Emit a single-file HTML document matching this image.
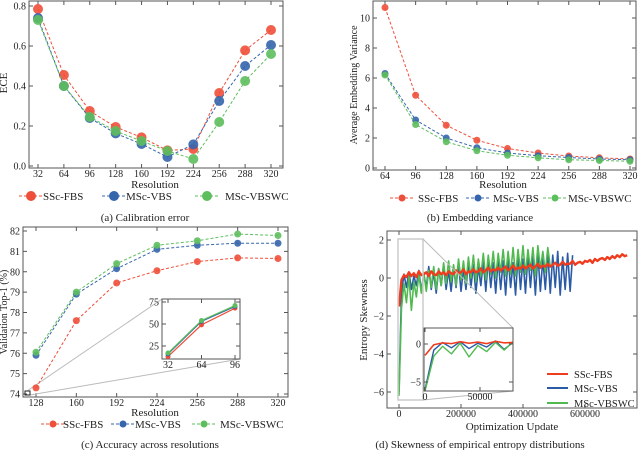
<!DOCTYPE html>
<html><head><meta charset="utf-8"><style>
body{margin:0;background:#fff}
svg{display:block;font-family:"Liberation Serif",serif}
text{fill:#222}
</style></head><body>
<svg id="fig" width="640" height="450" viewBox="0 0 640 450"></svg>
<script>
// ---- data ----
const aCats=[32,64,96,128,160,192,224,256,288,320];
const aRed=[0.785,0.455,0.275,0.195,0.143,0.078,0.085,0.365,0.578,0.68];
const aBlue=[0.74,0.40,0.24,0.163,0.11,0.045,0.108,0.325,0.50,0.605];
const aGreen=[0.73,0.40,0.245,0.175,0.125,0.075,0.035,0.22,0.425,0.56];
const aTicks=[0,0.2,0.4,0.6,0.8];
const bCats=[64,96,128,160,192,224,256,288,320];
const bRed=[10.7,4.85,2.85,1.85,1.3,1.0,0.8,0.68,0.6];
const bBlue=[6.3,3.2,2.0,1.35,1.0,0.82,0.7,0.6,0.55];
const bGreen=[6.2,2.9,1.75,1.15,0.85,0.68,0.55,0.5,0.45];
const bTicks=[0,2,4,6,8,10];
const cCats=[128,160,192,224,256,288,320];
const cRed=[74.3,77.6,79.45,80.05,80.5,80.68,80.65];
const cBlue=[75.9,78.9,80.15,81.1,81.3,81.4,81.4];
const cGreen=[76.05,79.0,80.4,81.3,81.52,81.85,81.78];
const cTicks=[74,75,76,77,78,79,80,81,82];
const ciCats=[32,64,96];
const ciRed=[13,49,68];
const ciBlue=[16,53,70];
const ciGreen=[17,54,71];
const ciTicks=[25,50,75];
const dStep=8000;
const dRed=[-1.5,-0.1,0.15,0.05,0.3,0.1,0.25,0.05,0.35,0.15,
0.2,0.3,0.1,0.35,0.2,0.15,0.35,0.2,0.3,0.15,
0.35,0.25,0.2,0.4,0.25,0.3,0.45,0.2,0.35,0.3,
0.45,0.3,0.35,0.5,0.3,0.4,0.55,0.35,0.45,0.4,
0.55,0.4,0.5,0.6,0.4,0.5,0.65,0.45,0.55,0.5,
0.65,0.5,0.6,0.7,0.5,0.6,0.75,0.55,0.65,0.6,
0.75,0.6,0.7,0.8,0.65,0.7,0.85,0.7,0.75,0.75,
0.9,0.7,0.8,0.85,0.75,0.9,0.85,0.95,0.8,1.0,
0.9,1.0,1.05,0.95,1.1,1.0,1.15,1.05,1.2,1.1,
1.25,1.15,1.2];
const dBlue=[-6.0,-0.8,0.2,-0.5,0.3,-0.6,0.1,-0.4,0.4,-0.7,
0.2,-0.5,0.6,-0.6,0.3,-0.8,0.5,-0.4,0.7,-0.6,
0.4,-0.7,0.6,-0.5,0.8,-0.7,0.5,-0.6,0.9,-0.5,
0.7,-0.8,0.6,-0.4,0.9,-0.7,1.0,-0.5,0.8,-0.8,
1.0,-0.6,0.9,-0.9,1.1,-0.5,0.8,-0.9,1.2,-0.6,
1.0,-0.8,1.2,-0.5,1.1,-0.9,1.3,-0.7,1.0,-0.6,
1.3,-0.8,1.2,-0.5,1.4,-0.9,1.1,-0.6,1.3,-0.7,
1.2];
const dGreen=[-6.2,-1.6,-0.3,-1.3,0.1,-1.7,-0.2,-1.0,0.2,-0.8,
0.3,-0.7,0.4,-0.5,0.6,-0.6,0.5,-0.4,0.8,-0.3,
0.9,-0.2,0.7,-0.4,1.0,-0.1,0.9,-0.3,1.1,0.0,
1.2,-0.2,1.0,0.1,1.3,-0.1,1.2,0.2,1.4,0.0,
1.3,0.3,1.5,0.1,1.4,0.2,1.6,0.1,1.5,0.3,
1.7,0.2,1.5,0.4,1.6,0.1,1.7,0.5,1.4,0.3,
1.6,0.6];
const dYTicks=[-6,-4,-2,0,2];
const dXTicks=[0,200000,400000,600000];
const diYTicks=[-5,0];
const diXTicks=[0,50000];

const RED='#ee4f3a',BLUE='#3565ac',GREEN='#5dbe5d';
const DRED='#f03c1e',DBLUE='#2c5ba6',DGREEN='#50ba50';
const NS='http://www.w3.org/2000/svg';
const svg=document.getElementById('fig');
function el(tag,attrs,parent){const e=document.createElementNS(NS,tag);for(const k in attrs)e.setAttribute(k,attrs[k]);(parent||svg).appendChild(e);return e;}
function txt(x,y,s,size,anchor,parent,rot){const t=el('text',{x:x,y:y,'font-size':size,'text-anchor':anchor||'middle'},parent);if(rot)t.setAttribute('transform',`rotate(-90 ${x} ${y})`);t.textContent=s;return t;}
function lin(d0,d1,r0,r1){return v=>r0+(v-d0)*(r1-r0)/(d1-d0);}

function frame(g,x0,y0,x1,y1,name){
  const r=el('rect',{x:x0,y:y0,width:x1-x0,height:y1-y0,fill:'none',stroke:'#555','stroke-width':1},g);
  
  
}
function yTicks(g,ticks,sy,x0,x1,fmt,size){
  ticks.forEach(v=>{const y=sy(v);
    el('line',{x1:x0,y1:y,x2:x0+4,y2:y,stroke:'#555'},g);
    el('line',{x1:x1,y1:y,x2:x1-4,y2:y,stroke:'#555'},g);
    const t=txt(x0-3,y+3.5,fmt(v),size||10,'end',g);
    
    
  });
}
function xTicks(g,ticks,sx,y0,y1,fmt,size){
  ticks.forEach(v=>{const x=sx(v);
    el('line',{x1:x,y1:y1,x2:x,y2:y1-4,stroke:'#555'},g);
    el('line',{x1:x,y1:y0,x2:x,y2:y0+4,stroke:'#555'},g);
    const t=txt(x,y1+9,fmt(v),size||10,'middle',g);
    
    
  });
}
function series(g,cats,vals,sx,sy,color,r,name){
  const sg=el('g',{},g);
  
  
  const pts=cats.map((c,i)=>sx(c)+','+sy(vals[i])).join(' ');
  el('polyline',{points:pts,fill:'none',stroke:color,'stroke-width':1,'stroke-dasharray':'3,2'},sg);
  cats.forEach((c,i)=>{const m=el('circle',{cx:sx(c),cy:sy(vals[i]),r:r,fill:color,'fill-opacity':0.9},sg);
    
    });
}
function legend(g,y,items,r){
  items.forEach(it=>{
    const lg=el('g',{},g);
    
    
    el('line',{x1:it.x-12,y1:y,x2:it.x+12,y2:y,stroke:it.c,'stroke-dasharray':'3,2'},lg);
    el('circle',{cx:it.x,cy:y,r:r,fill:it.c},lg);
    txt(it.tx,y+4,it.t,11,'start',lg);
  });
}
function group(name){const g=el('g',{});return g;}

// ---- (a) ----
(function(){
 const g=group('panel-a-calibration-error');
 const sx=lin(32,320,38,271),sy=lin(0,0.8,166,6);
 frame(g,29,1,283,168,'plot-frame');
 yTicks(g,aTicks,sy,29,283,v=>v.toFixed(1));
 xTicks(g,aCats,sx,1,168,v=>v);
 let t=txt(7,83,'ECE',11,'middle',g,true);
 t=txt(155,188,'Resolution',11);
 series(g,aCats,aRed,sx,sy,RED,5,'series-ssc-fbs');
 series(g,aCats,aBlue,sx,sy,BLUE,5,'series-msc-vbs');
 series(g,aCats,aGreen,sx,sy,GREEN,5,'series-msc-vbswc');
 legend(g,196,[{x:31,tx:43,t:'SSc-FBS',c:RED},{x:114,tx:126,t:'MSc-VBS',c:BLUE},{x:207,tx:225,t:'MSc-VBSWC',c:GREEN}],5);
 t=txt(145,221,'(a) Calibration error',11);
})();
// ---- (b) ----
(function(){
 const g=group('panel-b-embedding-variance');
 const sx=lin(64,320,385,630),sy=lin(0,10,168,18);
 frame(g,373,1,636,170,'plot-frame');
 yTicks(g,bTicks,sy,373,636,v=>v);
 xTicks(g,bCats,sx,1,170,v=>v);
 let t=txt(357,85,'Average Embedding Variance',10,'middle',g,true);
 t=txt(503,188,'Resolution',11);
 series(g,bCats,bRed,sx,sy,RED,3.5,'series-ssc-fbs');
 series(g,bCats,bBlue,sx,sy,BLUE,3.5,'series-msc-vbs');
 series(g,bCats,bGreen,sx,sy,GREEN,3.5,'series-msc-vbswc');
 legend(g,198,[{x:402,tx:418,t:'SSc-FBS',c:RED},{x:478,tx:493,t:'MSc-VBS',c:BLUE},{x:555,tx:568,t:'MSc-VBSWC',c:GREEN}],3.5);
 t=txt(480,221,'(b) Embedding variance',11);
})();
// ---- (c) ----
(function(){
 const g=group('panel-c-accuracy');
 const sx=lin(128,320,36,278),sy=lin(74,82,394,231);
 frame(g,23,227,288,397,'plot-frame');
 yTicks(g,cTicks,sy,23,288,v=>v);
 xTicks(g,cCats,sx,227,397,v=>v);
 let t=txt(7,312,'Validation Top-1 (%)',10,'middle',g,true);
 t=txt(155,416,'Resolution',11);
 el('line',{x1:27,y1:391,x2:162,y2:299,stroke:'#bbb'},g);
 el('line',{x1:30,y1:395,x2:240,y2:359,stroke:'#bbb'},g);
 el('rect',{x:25,y:391,width:5,height:4,fill:'none',stroke:'#222'},g);
 series(g,cCats,cRed,sx,sy,RED,3.5,'series-ssc-fbs');
 series(g,cCats,cBlue,sx,sy,BLUE,3.5,'series-msc-vbs');
 series(g,cCats,cGreen,sx,sy,GREEN,3.5,'series-msc-vbswc');
 const ig=group('inset-c');g.appendChild(ig);
 el('rect',{x:162,y:299,width:78,height:60,fill:'#fff'},ig);
 const ix=lin(32,96,168,235),iy=lin(25,75,346,302);
 frame(ig,162,299,240,359,'inset-frame');
 yTicks(ig,ciTicks,iy,162,240,v=>v);
 xTicks(ig,ciCats,ix,299,359,v=>v);
 [[ciRed,RED],[ciBlue,BLUE],[ciGreen,GREEN]].forEach(([d,c],k)=>{
  const pts=ciCats.map((cc,i)=>ix(cc)+','+iy(d[i])).join(' ');
  el('polyline',{points:pts,fill:'none',stroke:c,'stroke-width':1.2},ig);
  ciCats.forEach((cc,i)=>el('circle',{cx:ix(cc),cy:iy(d[i]),r:2.5,fill:c},ig));
 });
 legend(g,424,[{x:53,tx:63,t:'SSc-FBS',c:RED},{x:123,tx:135,t:'MSc-VBS',c:BLUE},{x:204,tx:220,t:'MSc-VBSWC',c:GREEN}],3.5);
 t=txt(150,448,'(c) Accuracy across resolutions',11);
})();
// ---- (d) ----
(function(){
 const g=group('panel-d-entropy-skewness');
 const sx=lin(0,600000,399,585),sy=lin(0,2,278,240);
 frame(g,387,231,637,408,'plot-frame');
 yTicks(g,dYTicks,sy,387,637,v=>v<0?'\u2212'+(-v):v);
 xTicks(g,dXTicks,sx,231,408,v=>v);
 let t=txt(367,320,'Entropy Skewness',11,'middle',g,true);
 t=txt(512,430,'Optimization Update',11);
 function path(d,sxf,syf,c,name,maxX,parent,w){
  const pts=[];d.forEach((v,i)=>{const x=i*dStep;if(maxX===undefined||x<=maxX)pts.push(sxf(x)+','+syf(v));});
  const p=el('polyline',{points:pts.join(' '),fill:'none',stroke:c,'stroke-width':w,'stroke-linejoin':'round'},parent);
  
  
 }
 path(dBlue,sx,sy,DBLUE,'series-msc-vbs',undefined,g,1.6);
 path(dGreen,sx,sy,DGREEN,'series-msc-vbswc',undefined,g,1.6);
 path(dRed,sx,sy,DRED,'series-ssc-fbs',undefined,g,2.4);
 el('rect',{x:398,y:239,width:25,height:161,fill:'none',stroke:'#ccc','stroke-width':1.5},g);
 el('line',{x1:423,y1:239,x2:513,y2:328,stroke:'#bbb'},g);
 el('line',{x1:423,y1:400,x2:513,y2:391,stroke:'#bbb'},g);
 const ig=group('inset-d');g.appendChild(ig);
 el('rect',{x:424,y:328,width:89,height:63,fill:'#fff'},ig);
 const ix=lin(0,80000,425,513),iy=lin(0,-5,344,382);
 path(dBlue,ix,iy,DBLUE,'inset-msc-vbs',80000,ig,1.4);
 path(dGreen,ix,iy,DGREEN,'inset-msc-vbswc',80000,ig,1.4);
 path(dRed,ix,iy,DRED,'inset-ssc-fbs',80000,ig,1.6);
 frame(ig,424,328,513,391,'inset-frame');
 yTicks(ig,diYTicks,iy,424,513,v=>v<0?'\u2212'+(-v):v);
 xTicks(ig,diXTicks,ix,328,391,v=>v);
 [[DRED,'SSc-FBS',374],[DBLUE,'MSc-VBS',388],[DGREEN,'MSc-VBSWC',403]].forEach(([c,s,y])=>{
  const lg=el('g',{},g);
  
  
  el('line',{x1:547,y1:y,x2:568,y2:y,stroke:c,'stroke-width':2},lg);
  txt(574,y+4,s,10.5,'start',lg);
 });
 t=txt(480,448,'(d) Skewness of empirical entropy distributions',11);
})();
</script>
</body></html>
